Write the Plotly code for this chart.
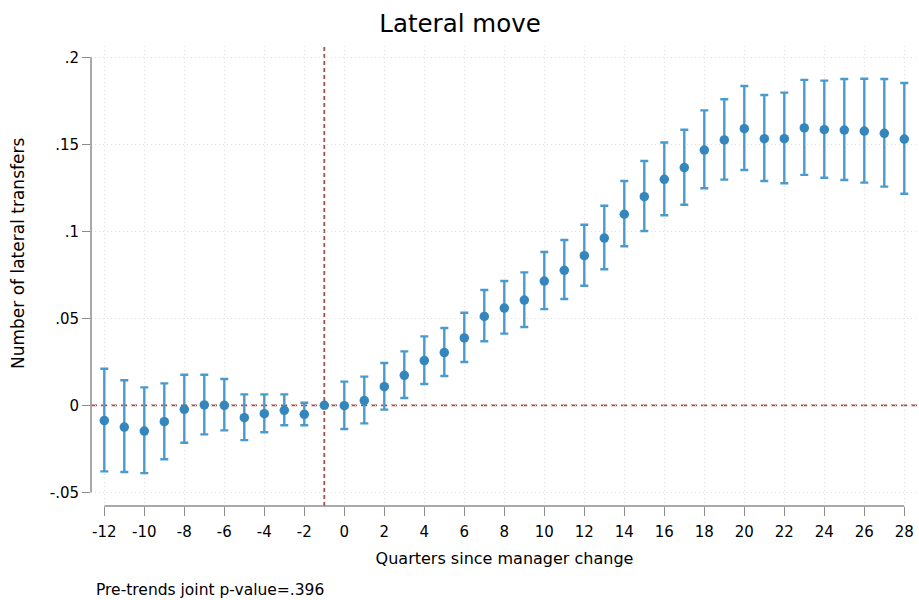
import plotly.graph_objects as go

# Event-study estimates: lateral transfers by quarter relative to manager change
quarters = list(range(-12, 29))
coef = [-0.0088, -0.0125, -0.0148, -0.0094, -0.0023, 0.0002, 0.0000, -0.0071, -0.0048, -0.0029,
        -0.0052, 0.0000, -0.0002, 0.0027, 0.0107, 0.0172, 0.0257, 0.0303, 0.0387, 0.0511,
        0.0559, 0.0605, 0.0714, 0.0776, 0.0860, 0.0961, 0.1098, 0.1199, 0.1299, 0.1366,
        0.1467, 0.1525, 0.1590, 0.1532, 0.1532, 0.1594, 0.1584, 0.1582, 0.1576, 0.1563, 0.1530]
ci_low = [-0.0380, -0.0383, -0.0390, -0.0310, -0.0215, -0.0167, -0.0144, -0.0200, -0.0155, -0.0115,
          -0.0115, 0.0000, -0.0136, -0.0104, -0.0025, 0.0042, 0.0122, 0.0168, 0.0249, 0.0368,
          0.0412, 0.0450, 0.0553, 0.0611, 0.0687, 0.0782, 0.0914, 0.1002, 0.1092, 0.1153,
          0.1247, 0.1297, 0.1352, 0.1289, 0.1276, 0.1324, 0.1308, 0.1295, 0.1280, 0.1257, 0.1216]
ci_high = [0.0210, 0.0144, 0.0103, 0.0126, 0.0176, 0.0176, 0.0151, 0.0063, 0.0063, 0.0063,
           0.0015, 0.0000, 0.0136, 0.0165, 0.0243, 0.0310, 0.0396, 0.0444, 0.0532, 0.0663,
           0.0714, 0.0764, 0.0881, 0.0950, 0.1038, 0.1147, 0.1289, 0.1404, 0.1510, 0.1584,
           0.1695, 0.1759, 0.1835, 0.1783, 0.1797, 0.1870, 0.1866, 0.1875, 0.1877, 0.1875, 0.1852]

x_ticks = list(range(-12, 29, 2))
y_ticks = [-0.05, 0, 0.05, 0.1, 0.15, 0.2]
y_tick_labels = ["-.05", "0", ".05", ".1", ".15", ".2"]

reference_quarter = -1
pvalue_text = "Pre-trends joint p-value=.396"

FONT = "DejaVu Sans, Liberation Sans, Arial, sans-serif"
W, H = 919, 600
ML, MR, MT, MB = 91, 1, 46, 94
PW, PH = W - ML - MR, H - MT - MB


def paper_x(px):
    return (px - ML) / PW


def paper_y(py):
    return (H - MB - py) / PH


err_plus = [h - c for h, c in zip(ci_high, coef)]
err_minus = [c - l for c, l in zip(coef, ci_low)]

fig = go.Figure()
fig.add_trace(go.Scatter(
    x=quarters, y=coef, mode="markers",
    marker=dict(color="#3586bc", size=9.5),
    error_y=dict(type="data", symmetric=False, array=err_plus, arrayminus=err_minus,
                 color="#4a9bcb", thickness=2.4, width=4),
    cliponaxis=False, showlegend=False, hoverinfo="x+y",
))

grid = dict(showgrid=True, gridcolor="#dedede", gridwidth=1, griddash="1px,3px", zeroline=False)

fig.update_xaxes(
    range=[-12 - 13.3 / 20, -12 + (W - MR - 104.3) / 20],
    tickmode="array", tickvals=x_ticks, ticktext=[str(v) for v in x_ticks],
    ticks="outside", ticklen=9, tickwidth=1.3, tickcolor="#8c8c8c", ticklabelstandoff=3,
    showline=False, tickfont=dict(family=FONT, size=15, color="black"),
    title=dict(text="Quarters since manager change", font=dict(family=FONT, size=16, color="black"),
               standoff=12),
    **grid,
)
fig.update_yaxes(
    range=[(405.3 - (H - MB)) / 1740, (405.3 - MT) / 1740],
    tickmode="array", tickvals=y_ticks, ticktext=y_tick_labels,
    ticks="outside", ticklen=8, tickwidth=1.3, tickcolor="#8c8c8c",
    showline=False, tickfont=dict(family=FONT, size=15, color="black"),
    **grid,
)

axis_col = "#8c8c8c"
ref_col = "#a4504b"
shapes = [
    # y axis line spanning the tick range
    dict(type="line", xref="paper", yref="y", x0=0, x1=0, y0=min(y_ticks), y1=max(y_ticks),
         line=dict(color=axis_col, width=1.5)),
    # x axis line spanning the tick range
    dict(type="line", xref="x", yref="paper", x0=min(x_ticks), x1=max(x_ticks), y0=0, y1=0,
         line=dict(color=axis_col, width=1.5)),
    # reference lines
    dict(type="line", xref="paper", yref="y", x0=0, x1=1, y0=0, y1=0,
         line=dict(color=ref_col, width=1.8, dash="6px,4px"), layer="below"),
    dict(type="line", xref="x", yref="paper", x0=reference_quarter, x1=reference_quarter, y0=0, y1=1,
         line=dict(color=ref_col, width=1.8, dash="4px,3px"), layer="below"),
]

annotations = [
    dict(text="Number of lateral transfers", textangle=-90, xref="paper", yref="paper",
         x=paper_x(18), y=paper_y(254), showarrow=False, xanchor="center", yanchor="middle",
         font=dict(family=FONT, size=17, color="black")),
    dict(text=pvalue_text, xref="paper", yref="paper", x=paper_x(94), y=paper_y(590),
         showarrow=False, xanchor="left", yanchor="middle",
         font=dict(family=FONT, size=15.5, color="black")),
]

fig.update_layout(
    width=W, height=H,
    margin=dict(l=ML, r=MR, t=MT, b=MB, pad=0),
    paper_bgcolor="white", plot_bgcolor="white",
    title=dict(text="Lateral move", x=460 / W, xref="container", xanchor="center",
               y=1 - 23 / H, yref="container", yanchor="middle",
               font=dict(family=FONT, size=24.5, color="black")),
    shapes=shapes, annotations=annotations,
)

fig.write_html("out.html")
